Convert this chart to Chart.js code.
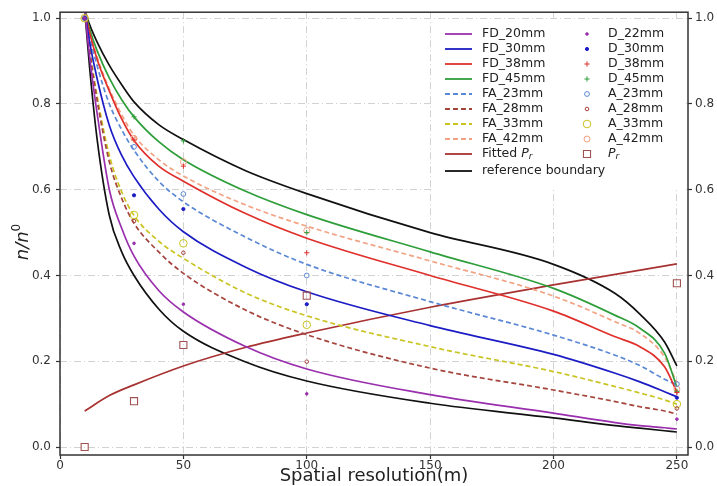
<!DOCTYPE html>
<html><head><meta charset="utf-8">
<script src="https://cdn.jsdelivr.net/npm/chart.js@4.4.1/dist/chart.umd.min.js"></script>
<style>html,body{margin:0;padding:0;background:#fff}#wrap{width:717px;height:486px}</style>
</head><body><div id="wrap"><canvas id="c" width="717" height="486"></canvas></div>
<script>
// resolution samples for the fitted curves
const xs   = [10, 12, 15, 20, 25, 30, 40, 50, 75, 100, 150, 200, 225, 235, 245, 250];
const fd20 = [1.02,0.91,0.78,0.60,0.51,0.445,0.365,0.315,0.235,0.182,0.122,0.079,0.057,0.050,0.045,0.042];
const fd30 = [1.02,0.945,0.86,0.75,0.68,0.63,0.555,0.502,0.42,0.362,0.283,0.216,0.172,0.152,0.129,0.117];
const fd38 = [1.02,0.967,0.905,0.83,0.765,0.715,0.655,0.62,0.545,0.487,0.40,0.317,0.257,0.234,0.187,0.128];
const fd45 = [1.02,0.975,0.925,0.86,0.81,0.77,0.712,0.67,0.597,0.542,0.455,0.37,0.307,0.277,0.219,0.14];
const fa23 = [1.02,0.96,0.89,0.80,0.74,0.692,0.62,0.572,0.49,0.426,0.339,0.261,0.214,0.19,0.158,0.145];
const fa28 = [1.02,0.925,0.81,0.665,0.58,0.522,0.455,0.405,0.32,0.262,0.184,0.133,0.106,0.094,0.084,0.077];
const fa33 = [1.02,0.93,0.82,0.68,0.595,0.54,0.48,0.44,0.36,0.306,0.234,0.176,0.141,0.126,0.11,0.10];
const fa42 = [1.02,0.97,0.91,0.835,0.775,0.727,0.67,0.632,0.565,0.515,0.434,0.352,0.292,0.265,0.21,0.15];
const refUp  = [1.02,0.985,0.945,0.89,0.845,0.805,0.752,0.717,0.645,0.591,0.50,0.426,0.358,0.31,0.245,0.189];
const refLow = [1.02,0.885,0.72,0.54,0.455,0.40,0.322,0.27,0.199,0.154,0.102,0.068,0.05,0.044,0.038,0.035];

const fitX  = [10, 20, 30, 50, 75, 100, 150, 200, 250];
const fitPr = [0.084,0.12,0.145,0.189,0.232,0.266,0.326,0.378,0.427];

// measured points
const ptX = [10, 30, 50, 100, 250];
const d22 = [1.0,0.475,0.333,0.124,0.065];
const d30 = [1.0,0.587,0.555,0.333,0.115];
const d38 = [1.0,0.716,0.655,0.453,0.127];
const d45 = [1.0,0.770,0.714,0.50,0.13];
const a23 = [1.0,0.70,0.59,0.40,0.147];
const a28 = [1.0,0.527,0.453,0.199,0.09];
const a33 = [1.0,0.541,0.475,0.285,0.10];
const a42 = [1.0,0.72,0.665,0.505,0.135];
const prVal = [0.0,0.107,0.238,0.353,0.382];

const xTicks = [0, 50, 100, 150, 200, 250];
const yTicks = [0, 0.2, 0.4, 0.6, 0.8, 1.0];

function pts(x, y){ return x.map((v,i)=>({x:v, y:y[i]})); }
function curve(label, x, y, color, dash){
  return { label, data: pts(x,y), borderColor: color, backgroundColor: color, borderWidth: 1.7,
    borderDash: dash || [], pointRadius: 0, cubicInterpolationMode: 'monotone', fill: false, order: 2 };
}
function marker(label, y, color, style, r, filled){
  return { label, data: pts(ptX,y), showLine: false, pointStyle: style, pointRadius: r,
    borderColor: color, backgroundColor: filled ? color : 'rgba(0,0,0,0)', pointBorderWidth: 1, order: 1 };
}
const DASH = [5,3];
const datasets = [
  curve('FD_20mm', xs, fd20, '#9a2fae'),
  curve('FD_30mm', xs, fd30, '#1c1cc4'),
  curve('FD_38mm', xs, fd38, '#e0302c'),
  curve('FD_45mm', xs, fd45, '#2e9e3a'),
  curve('FA_23mm', xs, fa23, '#5b88d4', DASH),
  curve('FA_28mm', xs, fa28, '#a5443c', DASH),
  curve('FA_33mm', xs, fa33, '#c9c421', DASH),
  curve('FA_42mm', xs, fa42, '#f2a384', DASH),
  curve('Fitted Pr', fitX, fitPr, '#a83232'),
  curve('reference boundary', xs, refUp, '#111111'),
  curve('reference boundary low', xs, refLow, '#111111'),
  marker('D_22mm', d22, '#9a2fae', 'circle', 1.3, true),
  marker('D_30mm', d30, '#1c1cc4', 'circle', 1.6, true),
  marker('D_38mm', d38, '#e0302c', 'cross', 2.6, false),
  marker('D_45mm', d45, '#2e9e3a', 'cross', 2.6, false),
  marker('A_23mm', a23, '#5b88d4', 'circle', 2.4, false),
  marker('A_28mm', a28, '#a5443c', 'circle', 1.8, false),
  marker('A_33mm', a33, '#c9c421', 'circle', 3.8, false),
  marker('A_42mm', a42, '#f2a384', 'circle', 3, false),
  { label: 'Pr', data: pts(ptX, prVal), showLine: false, pointStyle: 'rect', pointRadius: 5,
    borderColor: '#a05252', backgroundColor: 'rgba(0,0,0,0)', pointBorderWidth: 1.1, order: 0 }
];

const leftItems  = [0,1,2,3,4,5,6,7,8,9];
const rightItems = [11,12,13,14,15,16,17,18,19];
const FONT = '"DejaVu Sans", sans-serif';

const decor = {
  id: 'decor',
  afterDatasetsDraw(chart){
    const ctx = chart.ctx, a = chart.chartArea;
    ctx.save();
    ctx.strokeStyle = '#333'; ctx.lineWidth = 1.5; ctx.setLineDash([]);
    ctx.strokeRect(a.left, a.top, a.right - a.left, a.bottom - a.top);
    // legend
    ctx.fillStyle = '#fff';
    ctx.fillRect(432, 20, 252, 170);
    ctx.font = '12.5px ' + FONT; ctx.textBaseline = 'middle'; ctx.textAlign = 'left';
    leftItems.forEach((di, i) => {
      const ds = datasets[di];
      const y = i < 9 ? 34 + 15 * i : 171;
      ctx.strokeStyle = ds.borderColor; ctx.lineWidth = 1.8; ctx.setLineDash(ds.borderDash);
      ctx.beginPath(); ctx.moveTo(445, y); ctx.lineTo(472, y); ctx.stroke();
      ctx.setLineDash([]); ctx.fillStyle = '#222';
      if (di === 8) {
        ctx.font = '12.5px ' + FONT; ctx.fillText('Fitted ', 482, y);
        let w = ctx.measureText('Fitted ').width;
        ctx.font = 'italic 12.5px ' + FONT; ctx.fillText('P', 482 + w, y);
        w += ctx.measureText('P').width;
        ctx.font = 'italic 9px ' + FONT; ctx.fillText('r', 482 + w, y + 3);
        ctx.font = '12.5px ' + FONT;
      } else {
        ctx.fillText(ds.label, 482, y);
      }
    });
    rightItems.forEach((di, i) => {
      const ds = datasets[di];
      const y = 34 + 15 * i;
      ctx.strokeStyle = ds.borderColor; ctx.fillStyle = ds.backgroundColor; ctx.lineWidth = ds.pointBorderWidth;
      Chart.helpers.drawPoint(ctx, { pointStyle: ds.pointStyle, radius: ds.pointRadius, borderWidth: ds.pointBorderWidth, rotation: 0 }, 587, y);
      ctx.fillStyle = '#222';
      if (di === 19) {
        ctx.font = 'italic 12.5px ' + FONT; ctx.fillText('P', 608, y);
        const w = ctx.measureText('P').width;
        ctx.font = 'italic 9px ' + FONT; ctx.fillText('r', 608 + w, y + 3);
        ctx.font = '12.5px ' + FONT;
      } else {
        ctx.fillText(ds.label, 608, y);
      }
    });
    // axis titles
    ctx.fillStyle = '#222';
    ctx.font = '18px ' + FONT; ctx.textAlign = 'center'; ctx.textBaseline = 'alphabetic';
    ctx.fillText('Spatial resolution(m)', (a.left + a.right) / 2, 481);
    ctx.translate(28, 242); ctx.rotate(-Math.PI / 2);
    ctx.textAlign = 'left';
    ctx.font = 'italic 18px ' + FONT;
    const t1 = 'n/n', w1 = ctx.measureText(t1).width;
    ctx.font = '12px ' + FONT;
    const w2 = ctx.measureText('0').width;
    const x0 = -(w1 + w2) / 2;
    ctx.font = 'italic 18px ' + FONT; ctx.fillText(t1, x0, 0);
    ctx.font = '12px ' + FONT; ctx.fillText('0', x0 + w1, -8);
    ctx.restore();
  }
};

const grid = { color: '#d2d2d2', lineWidth: 1, drawTicks: true,
  tickLength: 4, tickColor: '#333', tickBorderDash: [], tickWidth: 1.2 };
const gridBorder = { display: false, dash: [7,3,1,3] };
const tickFont = { family: FONT, size: 12 };

new Chart(document.getElementById('c'), {
  type: 'line',
  data: { datasets },
  plugins: [decor],
  options: {
    responsive: false, animation: false,
    layout: { padding: { top: 12, left: 0, right: 0, bottom: 0 } },
    plugins: { legend: { display: false }, tooltip: { enabled: false } },
    scales: {
      x: { type: 'linear', min: 0, max: 254.5,
        afterBuildTicks: s => { s.ticks = xTicks.map(v => ({ value: v })); },
        afterFit: s => { s.height = 31; },
        grid, border: gridBorder,
        ticks: { font: tickFont, color: '#333', padding: 0, maxRotation: 0 } },
      y: { type: 'linear', position: 'left', min: -0.0186, max: 1.014,
        afterBuildTicks: s => { s.ticks = yTicks.map(v => ({ value: v })); },
        afterFit: s => { s.width = 60; },
        grid, border: gridBorder,
        ticks: { font: tickFont, color: '#333', padding: 5, callback: v => v.toFixed(1) } },
      y2: { type: 'linear', position: 'right', min: -0.0186, max: 1.014,
        afterBuildTicks: s => { s.ticks = yTicks.map(v => ({ value: v })); },
        afterFit: s => { s.width = 29; },
        grid: { drawOnChartArea: false, drawTicks: true, tickLength: 4, tickColor: '#333', tickWidth: 1.2 },
        border: { display: false },
        ticks: { font: tickFont, color: '#333', padding: 3, callback: v => v.toFixed(1) } }
    }
  }
});
</script>
</body></html>
